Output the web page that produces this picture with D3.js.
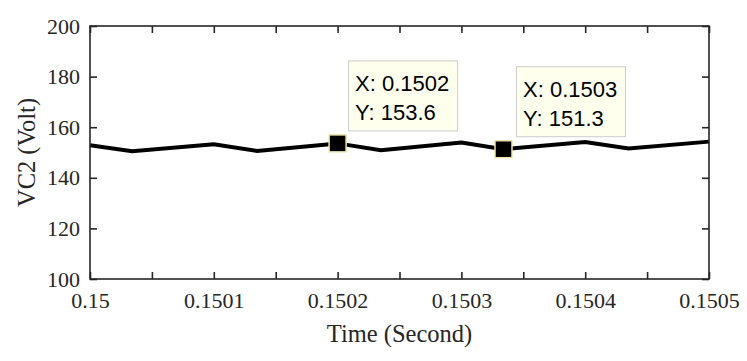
<!DOCTYPE html>
<html>
<head>
<meta charset="utf-8">
<script src="https://cdn.jsdelivr.net/npm/d3@7"></script>
<style>
  body { margin: 0; background: #fff; }
  svg { display: block; }
  .ax text { font-family: "Liberation Serif", "Times New Roman", serif; font-size: 22px; fill: #262626; }
</style>
</head>
<body>
<svg id="chart" width="747" height="361"></svg>
<script>
// data
const timeValues = [0.15, 0.150034, 0.1501, 0.150135, 0.1502, 0.150235, 0.1503, 0.150334, 0.1504, 0.150435, 0.1505];
const vc2Values  = [152.9, 150.5, 153.3, 150.6, 153.6, 150.9, 153.9, 151.3, 154.1, 151.6, 154.3];

const xTicks = [0.15, 0.15005, 0.1501, 0.15015, 0.1502, 0.15025, 0.1503, 0.15035, 0.1504, 0.15045, 0.1505];
const xTickLabels = ["0.15", "", "0.1501", "", "0.1502", "", "0.1503", "", "0.1504", "", "0.1505"];
const yTicks = [100, 120, 140, 160, 180, 200];
const yTickLabels = ["100", "120", "140", "160", "180", "200"];

// data tips: index into the series, and shown labels
const tipIndex = [4, 7];
const tipXText = ["X: 0.1502", "X: 0.1503"];
const tipYText = ["Y: 153.6", "Y: 151.3"];

const margin = {left: 90, right: 38, top: 26, bottom: 82};
const W = 747, H = 361;
const iw = W - margin.left - margin.right;
const ih = H - margin.top - margin.bottom;

const svg = d3.select('#chart');
const g = svg.append('g').attr('transform', `translate(${margin.left},${margin.top})`);

const x = d3.scaleLinear().domain([0.15, 0.1505]).range([0, iw]);
const y = d3.scaleLinear().domain([100, 200]).range([ih, 0]);

const axisColor = '#262626';
const serif = '"Liberation Serif", "Times New Roman", serif';
const sans = '"Liberation Sans", Arial, sans-serif';

// tick marks inward on all four sides
const tickLen = 7;
const clean = (sel) => {
    sel.attr('class', 'ax').attr('font-family', null).attr('font-size', null);
    sel.selectAll('.domain').remove();
    sel.selectAll('.tick line').attr('stroke', axisColor).attr('stroke-width', 1.6);
};

g.append('g').attr('transform', `translate(0,${ih})`)
    .call(d3.axisBottom(x).tickValues(xTicks).tickSize(-tickLen).tickPadding(14)
        .tickFormat((d, i) => xTickLabels[i]))
    .call(clean)
    .selectAll('text').attr('dy', '0.68em');
g.append('g')
    .call(d3.axisTop(x).tickValues(xTicks).tickSize(-tickLen).tickFormat(''))
    .call(clean);
g.append('g')
    .call(d3.axisLeft(y).tickValues(yTicks).tickSize(-tickLen).tickPadding(10)
        .tickFormat((d, i) => yTickLabels[i]))
    .call(clean);
g.append('g').attr('transform', `translate(${iw},0)`)
    .call(d3.axisRight(y).tickValues(yTicks).tickSize(-tickLen).tickFormat(''))
    .call(clean);

// series line
const line = d3.line().x((d, i) => x(timeValues[i])).y(d => y(d));
g.append('path')
    .datum(vc2Values)
    .attr('d', line)
    .attr('fill', 'none')
    .attr('stroke', '#000')
    .attr('stroke-width', 4)
    .attr('stroke-linejoin', 'miter');

// box
g.append('rect')
    .attr('width', iw).attr('height', ih)
    .attr('fill', 'none').attr('stroke', axisColor).attr('stroke-width', 1.6);

// data tips
const tipOffsets = [{dx: 11, dy: -82.5}, {dx: 13, dy: -82.5}];
tipIndex.forEach((idx, k) => {
    const px = x(timeValues[idx]);
    const py = y(vc2Values[idx]);
    const bx = px + tipOffsets[k].dx, by = py + tipOffsets[k].dy;
    const tip = g.append('g').attr('transform', `translate(${bx},${by})`);
    tip.append('rect')
        .attr('width', 109).attr('height', 70)
        .attr('fill', '#ffffee').attr('stroke', '#cccccc').attr('stroke-width', 1);
    tip.append('text').attr('x', 6.5).attr('y', 30.5).text(tipXText[k])
        .attr('font-family', sans).attr('font-size', 22).attr('fill', '#000');
    tip.append('text').attr('x', 6.5).attr('y', 59).text(tipYText[k])
        .attr('font-family', sans).attr('font-size', 22).attr('fill', '#000');
    g.append('rect')
        .attr('x', px - 8.5).attr('y', py - 8.5).attr('width', 17).attr('height', 17)
        .attr('fill', '#000').attr('stroke', '#f0e6b0').attr('stroke-width', 1.5);
});

// axis labels
svg.append('text')
    .attr('x', margin.left + iw / 2).attr('y', 342)
    .attr('text-anchor', 'middle')
    .attr('font-family', serif).attr('font-size', 24.5).attr('fill', axisColor)
    .text('Time (Second)');
svg.append('text')
    .attr('transform', `translate(35,${margin.top + ih / 2}) rotate(-90)`)
    .attr('text-anchor', 'middle')
    .attr('font-family', serif).attr('font-size', 24.5).attr('fill', axisColor)
    .text('VC2 (Volt)');
</script>
</body>
</html>
